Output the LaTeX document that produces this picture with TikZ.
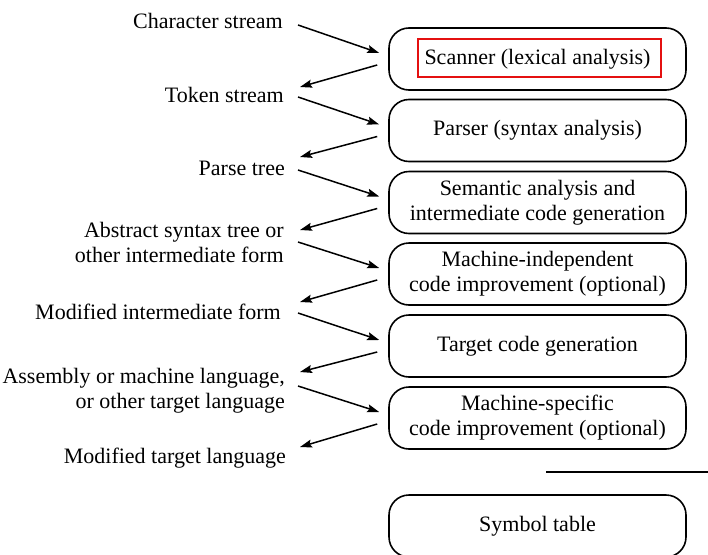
\documentclass[tikz,border=0pt]{standalone}
\usepackage{fontspec}
\setmainfont{Liberation Serif}
\usetikzlibrary{arrows.meta}
\definecolor{hlred}{RGB}{228,16,16}
\begin{document}
\begin{tikzpicture}[x=1pt,y=-1pt,
  stage/.style={draw, line width=1.6pt, rounded corners=20pt, minimum width=297pt, minimum height=62pt, inner sep=0pt, align=center, font=\fontsize{22}{25}\selectfont},
  lab/.style={inner sep=0pt, anchor=base east, font=\fontsize{22}{25}\selectfont},
  arr/.style={line width=1.5pt, -{Stealth[length=12pt,width=8pt,inset=2pt]}},
  hlbox/.style={draw=hlred, line width=1.8pt, minimum width=243pt, minimum height=38pt, inner sep=0pt}]
\clip (0,0) rectangle (708,554);
% stages
\node[stage] (b1) at (537.5,59) {Scanner (lexical analysis)};
\node[stage] (b2) at (537.5,130.5) {Parser (syntax analysis)};
\node[stage] (b3) at (537.5,202.5) {Semantic analysis and\\intermediate code generation};
\node[stage] (b4) at (537.5,274) {Machine-independent\\code improvement (optional)};
\node[stage] (b5) at (537.5,346) {Target code generation};
\node[stage] (b6) at (537.5,418) {Machine-specific\\code improvement (optional)};
\node[stage] (sym) at (537.5,526) {Symbol table};
\node[hlbox] (hl) at ([shift={(2,-1)}]b1.center) {};
% labels
\node[lab] (l1) at (283,28) {Character stream};
\node[lab] (l2) at (284,102) {Token stream};
\node[lab] (l3) at (285,175) {Parse tree};
\node[lab] (l4) at (284,237) {\begin{tabular}[t]{@{}r@{}}Abstract syntax tree or\\other intermediate form\hspace{8pt}\end{tabular}};
\node[lab] (l5) at (281,319) {Modified intermediate form};
\node[lab] (l6) at (285,383) {\begin{tabular}[t]{@{}r@{}}Assembly or machine language,\\or other target language\end{tabular}};
\node[lab] (l7) at (286,463) {Modified target language};
% arrows
\draw[arr] ([shift={(15,-3)}]l1.base east) -- ([shift={(-9,-6)}]b1.west);
\draw[arr] ([shift={(-11,6)}]b1.west) -- ([shift={(16,-15)}]l2.base east);
\draw[arr] ([shift={(14,-5)}]l2.base east) -- ([shift={(-9,-6)}]b2.west);
\draw[arr] ([shift={(-11,6)}]b2.west) -- ([shift={(15,-18)}]l3.base east);
\draw[arr] ([shift={(13,-5)}]l3.base east) -- ([shift={(-9,-6)}]b3.west);
\draw[arr] ([shift={(-11,6)}]b3.west) -- ([shift={(16,-7)}]l4.base east);
\draw[arr] ([shift={(14,5)}]l4.base east) -- ([shift={(-9,-6)}]b4.west);
\draw[arr] ([shift={(-11,6)}]b4.west) -- ([shift={(19,-17)}]l5.base east);
\draw[arr] ([shift={(17,-6)}]l5.base east) -- ([shift={(-9,-6)}]b5.west);
\draw[arr] ([shift={(-11,6)}]b5.west) -- ([shift={(15,-11)}]l6.base east);
\draw[arr] ([shift={(13,3)}]l6.base east) -- ([shift={(-9,-6)}]b6.west);
\draw[arr] ([shift={(-11,6)}]b6.west) -- ([shift={(14,-16)}]l7.base east);
% separator
\draw[line width=2pt] ([shift={(8.5,-22)}]sym.north) -- ([shift={(170.5,-22)}]sym.north);
\end{tikzpicture}
\end{document}
